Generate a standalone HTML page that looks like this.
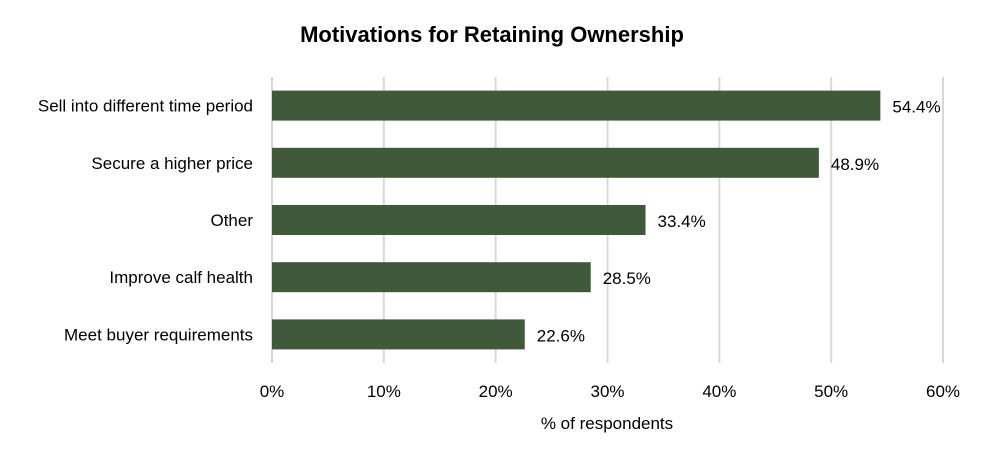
<!DOCTYPE html>
<html><head><meta charset="utf-8"><style>
body{margin:0;background:#fff;font-family:"Liberation Sans",sans-serif;}
svg text{font-family:"Liberation Sans",sans-serif;fill:#000;}
</style></head><body>
<svg width="985" height="461">
<text x="492" y="42" text-anchor="middle" font-size="22" font-weight="bold">Motivations for Retaining Ownership</text>
<g id="grid"></g><g id="bars"></g><g id="labels"></g>
<text x="607" y="429" text-anchor="middle" font-size="17">% of respondents</text>
</svg>
<script>
const categories=["Sell into different time period","Secure a higher price","Other","Improve calf health","Meet buyer requirements"];
const values=[54.4,48.9,33.4,28.5,22.6];
const ticks=[0,10,20,30,40,50,60];
const NS="http://www.w3.org/2000/svg";
const x0=272,x1=943,yTop=77,yBot=363,band=57.2;
const xs=v=>x0+(x1-x0)*v/60;
const yc=i=>yTop+band*(i+0.5);
function mk(t,a,p){const e=document.createElementNS(NS,t);for(const k in a)e.setAttribute(k,a[k]);document.getElementById(p).appendChild(e);return e;}
ticks.forEach(t=>{
const l=mk("line",{x1:xs(t),x2:xs(t),y1:yTop,y2:yBot,stroke:"#d9d9d9","stroke-width":2},"grid");


const tx=mk("text",{x:xs(t),y:397,"text-anchor":"middle","font-size":17},"labels");
tx.textContent=t+"%";


});
categories.forEach((c,i)=>{
const h=30;
const r=mk("rect",{x:x0,y:yc(i)-h/2,width:xs(values[i])-x0,height:h,fill:"#41593b"},"bars");


const cl=mk("text",{x:253,y:yc(i)+6,"text-anchor":"end","font-size":17},"labels");
cl.textContent=c;


const vl=mk("text",{x:xs(values[i])+12,y:yc(i)+7,"font-size":17},"labels");
vl.textContent=values[i].toFixed(1)+"%";


});
</script>
</body></html>
